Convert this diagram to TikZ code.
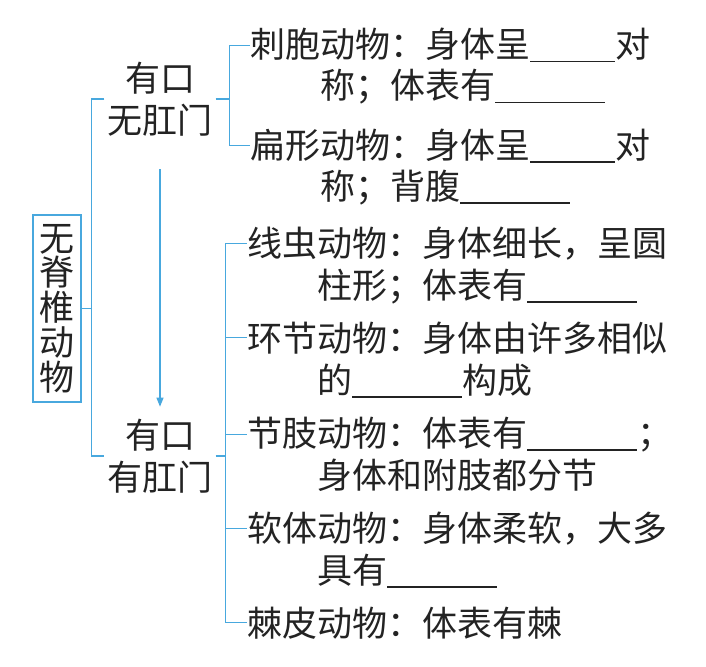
\documentclass[tikz,border=0pt]{standalone}
\usepackage{fontspec}
\setmainfont{Noto Sans CJK SC}
\usetikzlibrary{arrows.meta,calc}
\definecolor{linkblue}{RGB}{72,168,222}
\definecolor{inkgray}{RGB}{35,35,35}
\newcommand{\blank}[1]{\rule[-4.5pt]{#1pt}{1.1pt}}

\begin{document}
\begin{tikzpicture}[
    x=1pt, y=-1pt,
    font=\fontsize{35}{42}\selectfont,
    text=inkgray,
    br/.style={draw=linkblue, line width=1.2pt},
    item/.style={anchor=base west, inner sep=0pt},
    group/.style={align=center, inner xsep=3pt, inner ysep=2pt},
    rootbox/.style={draw=linkblue, line width=1.2pt, align=center, inner sep=0pt,
                    minimum width=48pt, minimum height=187pt,
                    font=\fontsize{35}{34.75}\selectfont},
]
\useasboundingbox (0,0) rectangle (706,666);

% root and the two groups
\node[rootbox] (root) at (57,308.5) {无\\脊\\椎\\动\\物};
\node[group] (mouth1) at (160,99) {有口\\无肛门};
\node[group] (mouth2) at (160,456) {有口\\有肛门};

% upper group
\node[item] (cnid) at (250,58) {刺胞动物：身体呈\blank{85}对};
\node[item] (cnid2) at (320,99) {称；体表有\blank{110}};
\node[item] (flat) at (250,158) {扁形动物：身体呈\blank{85}对};
\node[item] (flat2) at (320,199) {称；背腹\blank{110}};

% lower group
\node[item] (nema) at (247,256) {线虫动物：身体细长，呈圆};
\node[item] (nema2) at (317,298) {柱形；体表有\blank{110}};
\node[item] (anne) at (247,351) {环节动物：身体由许多相似};
\node[item] (anne2) at (317,393) {的\blank{110}构成};
\node[item] (arth) at (247,446) {节肢动物：体表有\blank{110}；};
\node[item] (arth2) at (317,488) {身体和附肢都分节};
\node[item] (moll) at (247,541) {软体动物：身体柔软，大多};
\node[item] (moll2) at (317,583) {具有\blank{110}};
\node[item] (echi) at (247,636) {棘皮动物：体表有棘};

% brackets
\draw[br] (root.east) -- ++(10,0) coordinate (rb);
\draw[br] (mouth1.west) -| (rb) |- (mouth2.west);

\draw[br] (mouth1.east) -- ++(14,0) coordinate (ub);
\draw[br] (cnid.west) -| (ub) |- (flat.west);

\draw[br] (mouth2.east) -- ++(10,0) coordinate (lb);
\draw[br] (nema.west) -| (lb) |- (echi.west);
\foreach \n in {anne,arth,moll}
    \draw[br] (lb |- \n.west) -- (\n.west);

% arrow between the groups
\draw[br, -{Triangle[length=9pt,width=7pt]}, shorten <=31pt, shorten >=10pt]
    (mouth1) -- (mouth2);

\end{tikzpicture}
\end{document}
